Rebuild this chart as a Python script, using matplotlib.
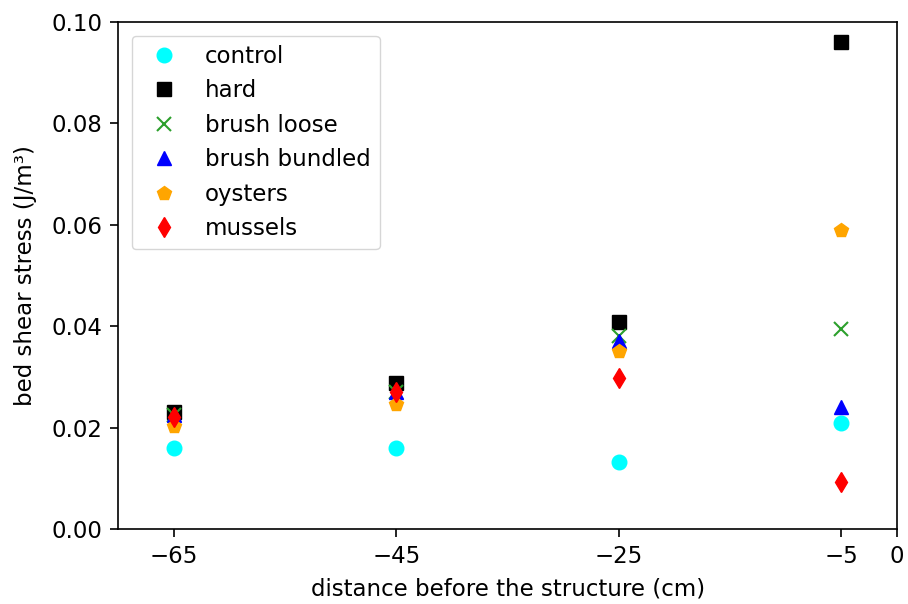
import matplotlib
matplotlib.use("Agg")
import matplotlib.pyplot as plt

distances = [-65, -45, -25, -5]
control = [0.016, 0.016, 0.0133, 0.021]
hard = [0.023, 0.0288, 0.0409, 0.0961]
brush_loose = [0.0225, 0.027, 0.038, 0.0394]
brush_bundled = [0.0225, 0.027, 0.037, 0.0241]
oysters = [0.0203, 0.0247, 0.0352, 0.059]
mussels = [0.0222, 0.027, 0.0298, 0.0092]
xticks = [-65, -45, -25, -5, 0]

fig = plt.figure(figsize=(9.08, 6.04), dpi=100)
ax = fig.add_axes([0.130, 0.124, 0.858, 0.8396])
fs_tick = 16.5
fs = 16.5
ms = 10.5
ax.plot(distances, control, 'o', color='cyan', ms=ms, label='control')
ax.plot(distances, hard, 's', color='black', ms=ms, label='hard')
ax.plot(distances, brush_loose, 'x', color='tab:green', ms=ms, mew=1.5, label='brush loose')
ax.plot(distances, brush_bundled, '^', color='blue', ms=ms, label='brush bundled')
ax.plot(distances, oysters, 'p', color='orange', ms=ms, label='oysters')
ax.plot(distances, mussels, 'd', color='red', ms=ms, label='mussels')
ax.set_xlim(-70, 0)
ax.set_ylim(0, 0.10)
ax.set_xticks(xticks)
ax.set_xticklabels([f"{t}".replace('-', '\u2212') for t in xticks])
ax.set_yticks([0, 0.02, 0.04, 0.06, 0.08, 0.10])
ax.set_yticklabels(['0.00', '0.02', '0.04', '0.06', '0.08', '0.10'])
ax.tick_params(labelsize=fs_tick, length=5.5, width=1.2, pad=6)
for s in ax.spines.values():
    s.set_linewidth(1.2)
ax.set_xlabel('distance before the structure (cm)', fontsize=fs, labelpad=7)
ax.set_ylabel('bed shear stress (J/m³)', fontsize=fs, labelpad=10)
ax.legend(loc='upper left', fontsize=fs, borderaxespad=0.6)
fig.savefig('out.png', dpi=100)
